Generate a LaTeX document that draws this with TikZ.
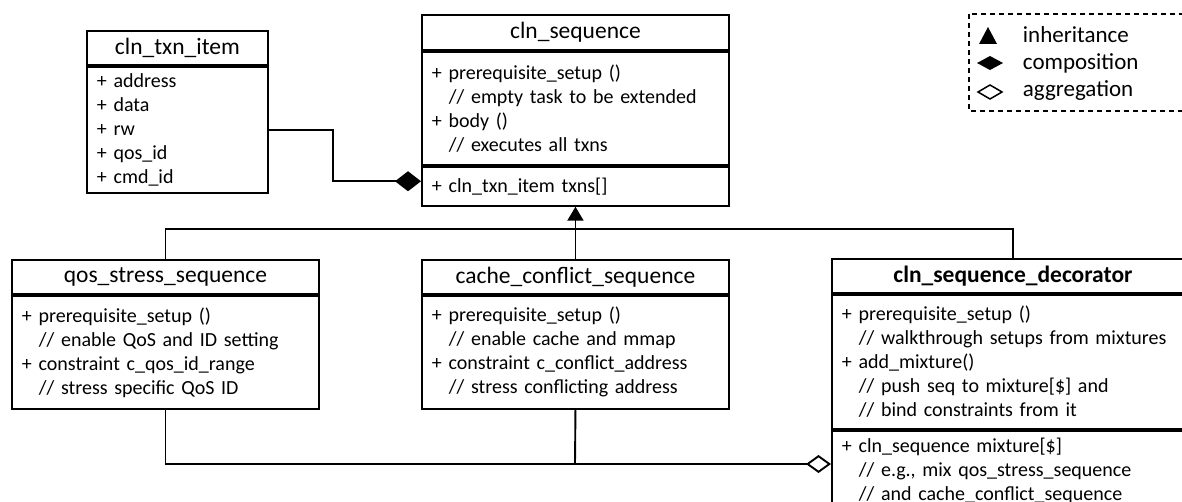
\documentclass[tikz,border=0pt]{standalone}
\usepackage{fontspec}
\setmainfont{Carlito}
\usetikzlibrary{arrows.meta}
\newcommand{\umlnote}[1]{\hspace*{17pt}// #1}

\begin{document}
\begin{tikzpicture}[x=1pt, y=-1pt, line width=1.9pt,
  umlbox/.style={draw, line width=1.9pt, anchor=north west, inner xsep=10pt, inner ysep=0pt,
    font=\fontsize{20}{24}\selectfont},
  umlhead/.style={umlbox, minimum width=#1, minimum height=34pt, font=\fontsize{23.5}{26}\selectfont},
  umlpart/.style={umlbox, text width=#1, align=left},
  legtext/.style={anchor=base west, inner sep=0pt, font=\fontsize{23}{26}\selectfont}]
%%%%% Frame %%%%%
\useasboundingbox (0,0) rectangle (1182,502);
\clip (0,0) rectangle (1182,502);
%%%%% Classes %%%%%
\node[umlhead=181pt] (itemHead) at (86,30) {cln\_txn\_item};
\node[umlpart=161pt, minimum height=126pt] (itemAttr) at (itemHead.south west)
  {+ address\\+ data\\+ rw\\+ qos\_id\\+ cmd\_id};

\node[umlhead=307pt, minimum height=35pt] (seqHead) at (421,14) {cln\_sequence};
\node[umlpart=287pt, minimum height=113pt] (seqOps) at (seqHead.south west)
  {+ prerequisite\_setup ()\\\umlnote{empty task to be extended}\\+ body ()\\\umlnote{executes all txns}};
\node[umlpart=287pt, minimum height=39pt] (seqAttr) at (seqOps.south west) {+ cln\_txn\_item txns[]};

\node[umlhead=307pt] (qosHead) at (11,259) {qos\_stress\_sequence};
\node[umlpart=287pt, minimum height=113pt] (qosOps) at (qosHead.south west)
  {+ prerequisite\_setup ()\\\umlnote{enable QoS and ID setting}\\+ constraint c\_qos\_id\_range\\\umlnote{stress specific QoS ID}};

\node[umlhead=307pt] (cacheHead) at (421,259) {cache\_conflict\_sequence};
\node[umlpart=287pt, minimum height=113pt] (cacheOps) at (cacheHead.south west)
  {+ prerequisite\_setup ()\\\umlnote{enable cache and mmap}\\+ constraint c\_conflict\_address\\\umlnote{stress conflicting address}};

\node[umlhead=362pt, font=\fontsize{23.5}{26}\selectfont\bfseries] (decHead) at (831,258) {cln\_sequence\_decorator};
\node[umlpart=342pt, minimum height=134pt] (decOps) at (decHead.south west)
  {+ prerequisite\_setup ()\\\umlnote{walkthrough setups from mixtures}\\+ add\_mixture()\\\umlnote{push seq to mixture[\$] and}\\\umlnote{bind constraints from it}};
\node[umlpart=342pt, minimum height=80pt] (decAttr) at (decOps.south west)
  {+ cln\_sequence mixture[\$]\\\umlnote{e.g., mix qos\_stress\_sequence}\\\umlnote{and cache\_conflict\_sequence}};
%%%%% Relations %%%%%
\coordinate (upBus) at (575,229);
\coordinate (aggBus) at (575,464);
\draw (qosHead.north) |- (upBus) -| (decHead.north);
\draw[-{Triangle[length=14pt,width=16pt]}] (cacheHead.north) -- (seqAttr.south);
\draw[-{Diamond[length=26pt,width=20pt]}] (itemAttr.east) -- ++(64,0) |- ([yshift=5pt]seqAttr.west);
\draw[-{Diamond[open,length=25pt,width=18pt]}] (qosOps.south) |- (aggBus) -- (aggBus -| decAttr.west);
\draw (cacheOps.south) -- (aggBus);
%%%%% Legend %%%%%
\draw[dash pattern=on 5pt off 4pt, line width=1.5pt] (969,14) rectangle (1200,111);
\fill (979,44) -- (997,44) -- (988,27) -- cycle;
\fill (977,63) -- (990,56) -- (1003,63) -- (990,70) -- cycle;
\draw[line width=1.5pt] (978,92) -- (990,85) -- (1002,92) -- (990,99) -- cycle;
\node[legtext] (legInh) at (1022,43) {inheritance};
\node[legtext] (legComp) at (1022,70) {composition};
\node[legtext] (legAgg) at (1022,97) {aggregation};
\end{tikzpicture}
\end{document}
